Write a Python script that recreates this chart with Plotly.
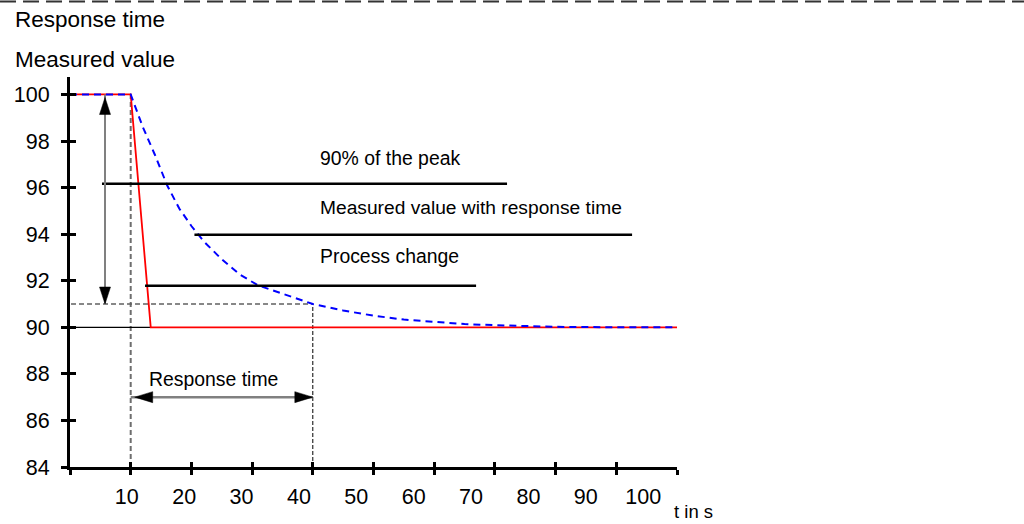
import plotly.graph_objects as go

# ---------------- data ----------------
t_process = [0, 10, 13.3, 100]
v_process = [100, 100, 90, 90]

t_measured = [0, 10, 12, 14, 16, 18, 20, 22, 25, 28, 31, 35, 40, 45, 50, 55, 60, 65, 70, 75, 80, 90, 100]
v_measured = [100, 100, 98.6, 97.4, 96.1, 95.1, 94.35, 93.7, 92.92, 92.26, 91.8, 91.43, 91.0, 90.72,
              90.5, 90.33, 90.22, 90.14, 90.09, 90.05, 90.02, 90.0, 90.0]

x_ticks = [0, 10, 20, 30, 40, 50, 60, 70, 80, 90, 100]
x_label_vals = [10, 20, 30, 40, 50, 60, 70, 80, 90, 100]
x_label_text = ["10", "20", "30", "40", "50", "60", "70", "80", "90", "100"]
y_ticks = [84, 86, 88, 90, 92, 94, 96, 98, 100]
y_tick_text = ["84", "86", "88", "90", "92", "94", "96", "98", "100"]

peak = 100
final = 90
ninety_pct = 91
t_change = 10
t_response = 40
arrow_x = 5.77
arrow_y = 87.0

leader_90 = (96.17, 5.27, 72.0)
leader_meas = (93.98, 20.5, 92.6)
leader_proc = (91.78, 12.36, 66.9)

FONT = "Liberation Sans, Arial, sans-serif"

fig = go.Figure()
fig.add_trace(go.Scatter(x=t_process, y=v_process, mode="lines",
                         line=dict(color="#ff0000", width=1.8), hoverinfo="skip", showlegend=False))
fig.add_trace(go.Scatter(x=t_measured, y=v_measured, mode="lines",
                         line=dict(color="#0000ff", width=2, dash="7px,5px"), hoverinfo="skip", showlegend=False))
# helper empty traces so overlay axes are drawn
fig.add_trace(go.Scatter(x=[], y=[], xaxis="x2", yaxis="y2", showlegend=False, hoverinfo="skip"))
fig.add_trace(go.Scatter(x=[], y=[], xaxis="x3", yaxis="y", showlegend=False, hoverinfo="skip"))

shapes = []
shapes.append(dict(type="line", xref="x", yref="y", x0=t_change, x1=t_change, y0=84, y1=peak,
                   line=dict(color="#6e6e6e", width=2, dash="5px,3px"), layer="below"))
shapes.append(dict(type="line", xref="x", yref="y", x0=t_response, x1=t_response, y0=84, y1=ninety_pct,
                   line=dict(color="#000000", width=1, dash="4px,2px"), layer="below"))
shapes.append(dict(type="line", xref="x", yref="y", x0=-1.15, x1=t_response, y0=ninety_pct, y1=ninety_pct,
                   line=dict(color="#606060", width=1.5, dash="5px,3px"), layer="below"))
shapes.append(dict(type="line", xref="x", yref="y", x0=-1.15, x1=t_process[2], y0=final, y1=final,
                   line=dict(color="#000000", width=1.2), layer="below"))
for (ly, lx0, lx1) in (leader_90, leader_meas, leader_proc):
    shapes.append(dict(type="line", xref="x", yref="y", x0=lx0, x1=lx1, y0=ly, y1=ly,
                       line=dict(color="#000000", width=2.5)))
shapes.append(dict(type="line", xref="x", yref="y", x0=arrow_x, x1=arrow_x, y0=ninety_pct, y1=peak,
                   line=dict(color="#808080", width=2)))
shapes.append(dict(type="line", xref="x", yref="y", x0=t_change, x1=t_response, y0=arrow_y, y1=arrow_y,
                   line=dict(color="#808080", width=2.5)))

def head(xa, ya, path):
    return dict(type="path", xref="x", yref="y", xsizemode="pixel", ysizemode="pixel",
                xanchor=xa, yanchor=ya, path=path, fillcolor="#000000",
                line=dict(color="#000000", width=0.5))
shapes.append(head(arrow_x, peak, "M0,-3 L-5.5,-20 L5.5,-20 Z"))
shapes.append(head(arrow_x, ninety_pct, "M0,0 L-5.5,17 L5.5,17 Z"))
shapes.append(head(t_change, arrow_y, "M4,0 L22,5.5 L22,-5.5 Z"))
shapes.append(head(t_response, arrow_y, "M0,0 L-18,5.5 L-18,-5.5 Z"))
shapes.append(dict(type="line", xref="paper", yref="paper", x0=-0.1153, x1=1.5717, y0=1.1936, y1=1.1936,
                   line=dict(color="#333333", width=2, dash="16px,7px")))

annotations = [
    dict(text="Response time", xref="paper", yref="paper", x=-0.0939, y=1.1487, xanchor="left",
         yanchor="middle", showarrow=False, font=dict(family=FONT, size=22.5, color="#000")),
    dict(text="Measured value", xref="paper", yref="paper", x=-0.0939, y=1.046, xanchor="left",
         yanchor="middle", showarrow=False, font=dict(family=FONT, size=22.5, color="#000")),
    dict(text="90% of the peak", xref="x", yref="y", x=40.9, y=97.25, xanchor="left", yanchor="middle",
         showarrow=False, font=dict(family=FONT, size=19.4, color="#000")),
    dict(text="Measured value with response time", xref="x", yref="y", x=40.9, y=95.14, xanchor="left",
         yanchor="middle", showarrow=False, font=dict(family=FONT, size=19.2, color="#000")),
    dict(text="Process change", xref="x", yref="y", x=40.9, y=93.08, xanchor="left", yanchor="middle",
         showarrow=False, font=dict(family=FONT, size=19.4, color="#000")),
    dict(text="Response time", xref="x", yref="y", x=23.7, y=87.8, xanchor="center", yanchor="middle",
         showarrow=False, font=dict(family=FONT, size=19.4, color="#000")),
    dict(text="t in s", xref="paper", yref="paper", x=0.9918, y=-0.115, xanchor="left", yanchor="middle",
         showarrow=False, font=dict(family=FONT, size=18.5, color="#000")),
]

fig.update_layout(
    width=1024, height=524,
    margin=dict(l=70, r=347, t=77, b=57, pad=0),
    paper_bgcolor="white", plot_bgcolor="white",
    showlegend=False,
    shapes=shapes, annotations=annotations,
    xaxis=dict(range=[0, 100], showline=True, linecolor="black", linewidth=3, ticks="outside",
               ticklen=5, tickwidth=2.5, tickcolor="black", tickmode="array", tickvals=x_ticks,
               showticklabels=False, showgrid=False, zeroline=False),
    xaxis2=dict(range=[0, 100], overlaying="x", anchor="y", showline=False, ticks="inside",
                ticklen=5, tickwidth=2.5, tickcolor="black", tickmode="array", tickvals=x_ticks,
                showticklabels=False, showgrid=False, zeroline=False),
    xaxis3=dict(range=[0.1, 105.9], overlaying="x", anchor="y", side="bottom", showline=False, ticks="",
                tickmode="array", tickvals=x_label_vals, ticktext=x_label_text, ticklabelstandoff=14,
                tickfont=dict(family=FONT, size=21.5, color="#000"), showgrid=False, zeroline=False),
    yaxis=dict(range=[84, 100.75], showline=True, linecolor="black", linewidth=3, ticks="outside",
               ticklen=6, tickwidth=2.5, tickcolor="black", tickmode="array", tickvals=y_ticks,
               ticktext=y_tick_text, tickfont=dict(family=FONT, size=21.5, color="#000"),
               ticklabelstandoff=7, showgrid=False, zeroline=False),
    yaxis2=dict(range=[84, 100.75], overlaying="y", anchor="x", showline=False, ticks="inside",
                ticklen=6, tickwidth=2.5, tickcolor="black", tickmode="array", tickvals=y_ticks,
                showticklabels=False, showgrid=False, zeroline=False),
)

fig.write_html("out.html", config={"displayModeBar": False},
               post_script="document.body.style.margin='0';document.body.style.overflow='hidden';")
